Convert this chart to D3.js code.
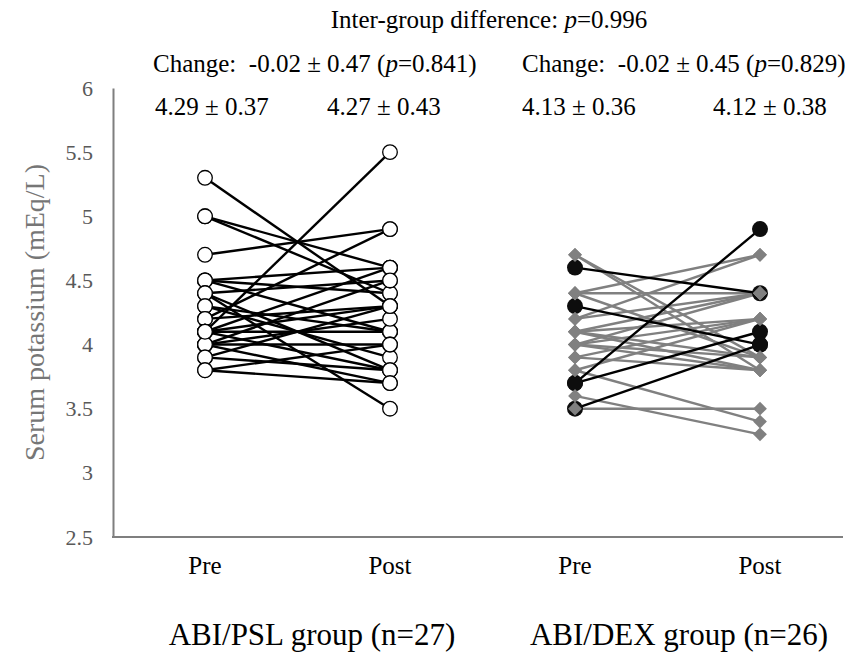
<!DOCTYPE html>
<html>
<head>
<meta charset="utf-8">
<script src="https://cdn.jsdelivr.net/npm/d3@7"></script>
<style>
  body { margin: 0; background: #fff; }
  text { font-family: "Liberation Serif", "Times New Roman", serif; }
</style>
</head>
<body>
<div id="chart"></div>
<script>
// categories on the x axis
var timePoints = ["PSL Pre", "PSL Post", "DEX Pre", "DEX Post"];
var timeLabels = ["Pre", "Post", "Pre", "Post"];
var groupLabels = ["ABI/PSL group (n=27)", "ABI/DEX group (n=26)"];
var yTicks = [2.5, 3, 3.5, 4, 4.5, 5, 5.5, 6];

// ABI/PSL group, paired pre/post
var pslPre  = [5.3, 5.0, 5.0, 4.7, 4.5, 4.5, 4.5, 4.4, 4.4, 4.4, 4.3, 4.3, 4.2, 4.2,
               4.1, 4.1, 4.1, 4.1, 4.0, 4.0, 4.0, 4.0, 3.9, 3.9, 3.8, 3.8, 4.1];
var pslPost = [4.3, 4.6, 4.4, 4.9, 4.6, 4.4, 4.1, 3.5, 3.8, 4.5, 4.1, 3.9, 4.9, 4.3,
               5.5, 4.6, 4.1, 3.8, 4.5, 4.2, 3.7, 4.0, 4.3, 3.8, 4.0, 3.7, 4.3];

// ABI/DEX group, grey diamonds
var dexPre  = [4.7, 4.7, 4.4, 4.4, 4.4, 4.2, 4.2, 4.1, 4.1, 4.1, 4.0, 4.0, 4.0, 4.0,
               3.9, 3.9, 3.8, 3.8, 3.6, 3.5, 4.1];
var dexPost = [3.9, 3.8, 4.7, 4.4, 3.9, 4.7, 4.4, 4.4, 4.2, 3.8, 4.4, 4.2, 3.9, 3.8,
               4.2, 3.8, 4.2, 3.4, 3.3, 3.5, 3.9];
// ABI/DEX group, black circles
var dexBlackPre  = [4.6, 4.3, 3.7, 3.7, 3.5];
var dexBlackPost = [4.4, 4.0, 4.9, 4.1, 4.0];

// header texts
var meanLabels = ["4.29 \u00b1 0.37", "4.27 \u00b1 0.43", "4.13 \u00b1 0.36", "4.12 \u00b1 0.38"];

var W = 845, H = 653;
var svg = d3.select("#chart").append("svg")
    .attr("width", W)
    .attr("height", H);

var x = d3.scalePoint().domain(timePoints).range([205, 760]);
var y = d3.scaleLinear().domain([2.5, 6]).range([537, 88]);

// axes (y line + baseline)
var yAxis = svg.append("g")
    .attr("transform", "translate(113,0)")
    .call(d3.axisLeft(y).tickValues(yTicks).tickSize(0).tickPadding(20).tickFormat(d3.format("")));
yAxis.select(".domain").attr("stroke", "#7f7f7f").attr("stroke-width", 2);
yAxis.selectAll("text")
    .attr("fill", "#595959")
    .style("font-size", "22px")
    .style("font-family", "Liberation Serif, serif");

svg.append("line")
    .attr("x1", 112).attr("x2", 843)
    .attr("y1", y(2.5)).attr("y2", y(2.5))
    .attr("stroke", "#7f7f7f").attr("stroke-width", 2);

// y title
svg.append("text")
    .attr("transform", "translate(44," + y(4.25) + ") rotate(-90)")
    .attr("text-anchor", "middle")
    .attr("fill", "#767676")
    .style("font-size", "28px")
    .text("Serum potassium (mEq/L)");

// x labels
svg.selectAll(".xlab")
    .data(timePoints)
    .enter().append("text")
    .attr("class", "xlab")
    .attr("x", function(d) { return x(d); })
    .attr("y", 574)
    .attr("text-anchor", "middle")
    .style("font-size", "25px")
    .text(function(d, i) { return timeLabels[i]; });

svg.selectAll(".glab")
    .data(groupLabels)
    .enter().append("text")
    .attr("class", "glab")
    .attr("x", function(d, i) { return i == 0 ? 312 : 679; })
    .attr("y", 645)
    .attr("text-anchor", "middle")
    .style("font-size", "31px")
    .text(function(d) { return d; });

// header text
function pText(sel, parts) {
    parts.forEach(function(p) {
        sel.append("tspan").style("font-style", p[1] ? "italic" : "normal").text(p[0]);
    });
}
var t1 = svg.append("text").attr("x", 489).attr("y", 28).attr("text-anchor", "middle").style("font-size", "25px");
pText(t1, [["Inter-group difference: ", 0], ["p", 1], ["=0.996", 0]]);
var t2 = svg.append("text").attr("x", 153).attr("y", 72).style("font-size", "25px").style("white-space", "pre");
pText(t2, [["Change:  -0.02 \u00b1 0.47 (", 0], ["p", 1], ["=0.841)", 0]]);
var t3 = svg.append("text").attr("x", 522).attr("y", 72).style("font-size", "25px").style("white-space", "pre");
pText(t3, [["Change:  -0.02 \u00b1 0.45 (", 0], ["p", 1], ["=0.829)", 0]]);

var meanX = [155, 327, 522, 713];
svg.selectAll(".mean")
    .data(meanLabels)
    .enter().append("text")
    .attr("class", "mean")
    .attr("x", function(d, i) { return meanX[i]; })
    .attr("y", 115)
    .style("font-size", "25px")
    .text(function(d) { return d; });

// PSL lines + open circles
var psl = pslPre.map(function(d, i) { return [d, pslPost[i]]; });
svg.selectAll(".pslLine")
    .data(psl)
    .enter().append("line")
    .attr("class", "pslLine")
    .attr("x1", x("PSL Pre")).attr("x2", x("PSL Post"))
    .attr("y1", function(d) { return y(d[0]); })
    .attr("y2", function(d) { return y(d[1]); })
    .attr("stroke", "#000").attr("stroke-width", 2.4);

var pslPts = [];
psl.forEach(function(d) {
    pslPts.push([x("PSL Pre"), d[0]]);
    pslPts.push([x("PSL Post"), d[1]]);
});
svg.selectAll(".pslPt")
    .data(pslPts)
    .enter().append("circle")
    .attr("class", "pslPt")
    .attr("cx", function(d) { return d[0]; })
    .attr("cy", function(d) { return y(d[1]); })
    .attr("r", 7.3)
    .attr("fill", "#fff")
    .attr("stroke", "#000")
    .attr("stroke-width", 1.3);

// DEX lines
var dex = dexPre.map(function(d, i) { return [d, dexPost[i]]; });
var dexB = dexBlackPre.map(function(d, i) { return [d, dexBlackPost[i]]; });

svg.selectAll(".dexLine")
    .data(dex)
    .enter().append("line")
    .attr("class", "dexLine")
    .attr("x1", x("DEX Pre")).attr("x2", x("DEX Post"))
    .attr("y1", function(d) { return y(d[0]); })
    .attr("y2", function(d) { return y(d[1]); })
    .attr("stroke", "#808080").attr("stroke-width", 2.4);

svg.selectAll(".dexBLine")
    .data(dexB)
    .enter().append("line")
    .attr("class", "dexBLine")
    .attr("x1", x("DEX Pre")).attr("x2", x("DEX Post"))
    .attr("y1", function(d) { return y(d[0]); })
    .attr("y2", function(d) { return y(d[1]); })
    .attr("stroke", "#000").attr("stroke-width", 2.4);

var dexBPts = [];
dexB.forEach(function(d) {
    dexBPts.push([x("DEX Pre"), d[0]]);
    dexBPts.push([x("DEX Post"), d[1]]);
});
svg.selectAll(".dexBPt")
    .data(dexBPts)
    .enter().append("circle")
    .attr("class", "dexBPt")
    .attr("cx", function(d) { return d[0]; })
    .attr("cy", function(d) { return y(d[1]); })
    .attr("r", 8)
    .attr("fill", "#0d0d0d");

var dexPts = [];
dex.forEach(function(d) {
    dexPts.push([x("DEX Pre"), d[0]]);
    dexPts.push([x("DEX Post"), d[1]]);
});
svg.selectAll(".dexPt")
    .data(dexPts)
    .enter().append("path")
    .attr("class", "dexPt")
    .attr("transform", function(d) { return "translate(" + d[0] + "," + y(d[1]) + ") rotate(45)"; })
    .attr("d", d3.symbol().type(d3.symbolSquare).size(95))
    .attr("fill", "#808080");
</script>
</body>
</html>
